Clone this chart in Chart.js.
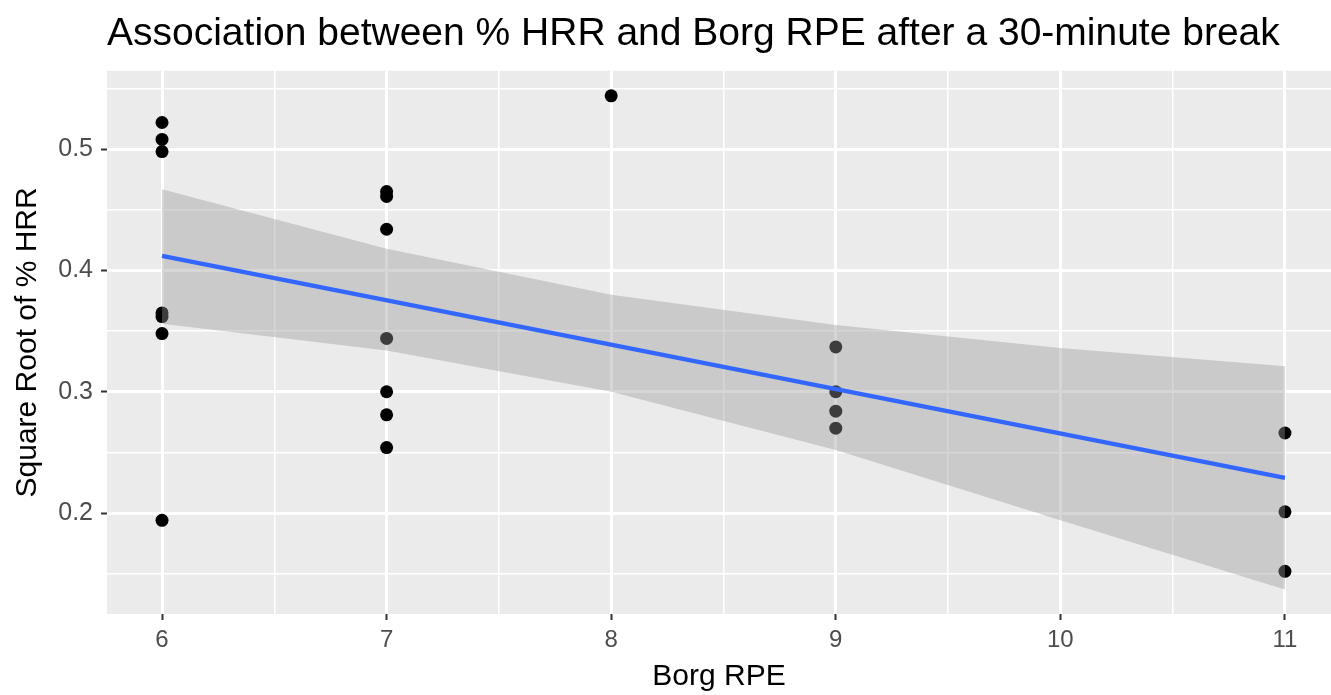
<!DOCTYPE html>
<html lang="en">
<head>
    <meta charset="UTF-8">
    <title>Borg RPE vs HRR</title>
    <script src="https://cdn.jsdelivr.net/npm/chart.js"></script>
    <style>
        body { margin: 0; background: #fff; }
    </style>
</head>
<body>
    <canvas id="myChart" width="1331" height="695"></canvas>
    <script>
        // observations (Borg RPE, sqrt of % HRR)
        const rpe = [6, 6, 6, 6, 6, 6, 6,
                     7, 7, 7, 7, 7, 7, 7,
                     8,
                     9, 9, 9, 9,
                     11, 11, 11];
        const sqrtHrr = [0.522, 0.508, 0.498, 0.365, 0.362, 0.348, 0.194,
                         0.465, 0.461, 0.434, 0.344, 0.300, 0.281, 0.254,
                         0.544,
                         0.337, 0.300, 0.284, 0.270,
                         0.266, 0.201, 0.152];

        // fitted line and its confidence band
        const fitX = [6, 11];
        const fitY = [0.412, 0.229];
        const bandX = [6, 7, 8, 9, 10, 11];
        const bandUpper = [0.467, 0.418, 0.380, 0.355, 0.336, 0.321];
        const bandLower = [0.356, 0.334, 0.300, 0.252, 0.194, 0.137];

        // axis ticks
        const xMajor = [6, 7, 8, 9, 10, 11];
        const xMinor = [6.5, 7.5, 8.5, 9.5, 10.5];
        const yMajor = [0.2, 0.3, 0.4, 0.5];
        const yMinor = [0.15, 0.25, 0.35, 0.45, 0.55];
        const xLabels = ['6', '7', '8', '9', '10', '11'];
        const yLabels = ['0.2', '0.3', '0.4', '0.5'];

        const toXY = (xs, ys) => xs.map((x, i) => ({ x: x, y: ys[i] }));

        const panelBg = {
            id: 'panelBg',
            beforeDraw(chart) {
                const a = chart.chartArea;
                const ctx = chart.ctx;
                ctx.save();
                ctx.fillStyle = '#EBEBEB';
                ctx.fillRect(a.left, a.top, a.right - a.left, a.bottom - a.top);
                ctx.restore();
            }
        };

        function isMajor(list, v) {
            return list.some(m => Math.abs(m - v) < 1e-9);
        }

        Chart.defaults.font.family = '"Liberation Sans", Arial, sans-serif';

        const ctx = document.getElementById('myChart');
        new Chart(ctx, {
            type: 'scatter',
            data: {
                datasets: [
                    {
                        label: 'points',
                        data: toXY(rpe, sqrtHrr),
                        backgroundColor: '#000000',
                        borderWidth: 0,
                        pointRadius: 6.5,
                        pointHoverRadius: 6.5,
                        order: 4
                    },
                    {
                        type: 'line',
                        label: 'lower',
                        data: toXY(bandX, bandLower),
                        borderColor: 'transparent',
                        borderWidth: 0,
                        pointRadius: 0,
                        fill: false,
                        order: 3
                    },
                    {
                        type: 'line',
                        label: 'upper',
                        data: toXY(bandX, bandUpper),
                        borderColor: 'transparent',
                        borderWidth: 0,
                        pointRadius: 0,
                        fill: '-1',
                        backgroundColor: 'rgba(153,153,153,0.4)',
                        order: 2
                    },
                    {
                        type: 'line',
                        label: 'fit',
                        data: toXY(fitX, fitY),
                        borderColor: '#3366FF',
                        borderWidth: 4.5,
                        pointRadius: 0,
                        fill: false,
                        order: 1
                    }
                ]
            },
            options: {
                responsive: false,
                animation: false,
                events: [],
                layout: { padding: 0, autoPadding: false },
                plugins: {
                    legend: { display: false },
                    tooltip: { enabled: false },
                    title: {
                        display: true,
                        text: 'Association between % HRR and Borg RPE after a 30-minute break',
                        align: 'start',
                        fullSize: false,
                        color: '#000000',
                        font: { size: 39, weight: 'normal', lineHeight: 1.2 },
                        padding: { top: 11, bottom: 13 }
                    }
                },
                scales: {
                    x: {
                        type: 'linear',
                        min: 5.755,
                        max: 11.205,
                        afterBuildTicks: (scale) => {
                            scale.ticks = xMajor.concat(xMinor).sort((a, b) => a - b).map(v => ({ value: v }));
                        },
                        afterFit: (scale) => { scale.height = 81; },
                        border: { display: false },
                        grid: {
                            color: '#FFFFFF',
                            lineWidth: (c) => isMajor(xMajor, c.tick.value) ? 3 : 1.5,
                            tickColor: (c) => isMajor(xMajor, c.tick.value) ? '#333333' : 'rgba(0,0,0,0)',
                            tickWidth: 2,
                            tickLength: 6
                        },
                        ticks: {
                            autoSkip: false,
                            maxRotation: 0,
                            color: '#4D4D4D',
                            font: { size: 24 },
                            padding: 6,
                            callback: (v) => {
                                const i = xMajor.findIndex(m => Math.abs(m - v) < 1e-9);
                                return i >= 0 ? xLabels[i] : '';
                            }
                        },
                        title: {
                            display: true,
                            text: 'Borg RPE',
                            color: '#000000',
                            font: { size: 30 },
                            padding: { top: 0, bottom: 0 }
                        }
                    },
                    y: {
                        type: 'linear',
                        min: 0.1168,
                        max: 0.5646,
                        afterBuildTicks: (scale) => {
                            scale.ticks = yMajor.concat(yMinor).sort((a, b) => a - b).map(v => ({ value: v }));
                        },
                        afterFit: (scale) => { scale.width = 107; },
                        border: { display: false },
                        grid: {
                            color: '#FFFFFF',
                            lineWidth: (c) => isMajor(yMajor, c.tick.value) ? 3 : 1.5,
                            tickColor: (c) => isMajor(yMajor, c.tick.value) ? '#333333' : 'rgba(0,0,0,0)',
                            tickWidth: 2,
                            tickLength: 6
                        },
                        ticks: {
                            autoSkip: false,
                            color: '#4D4D4D',
                            font: { size: 25 },
                            padding: 8,
                            callback: (v) => {
                                const i = yMajor.findIndex(m => Math.abs(m - v) < 1e-9);
                                return i >= 0 ? yLabels[i] : '';
                            }
                        },
                        title: {
                            display: true,
                            text: 'Square Root of % HRR',
                            color: '#000000',
                            font: { size: 30 },
                            padding: { top: 10, bottom: 0 }
                        }
                    }
                }
            },
            plugins: [panelBg]
        });
    </script>
</body>
</html>
